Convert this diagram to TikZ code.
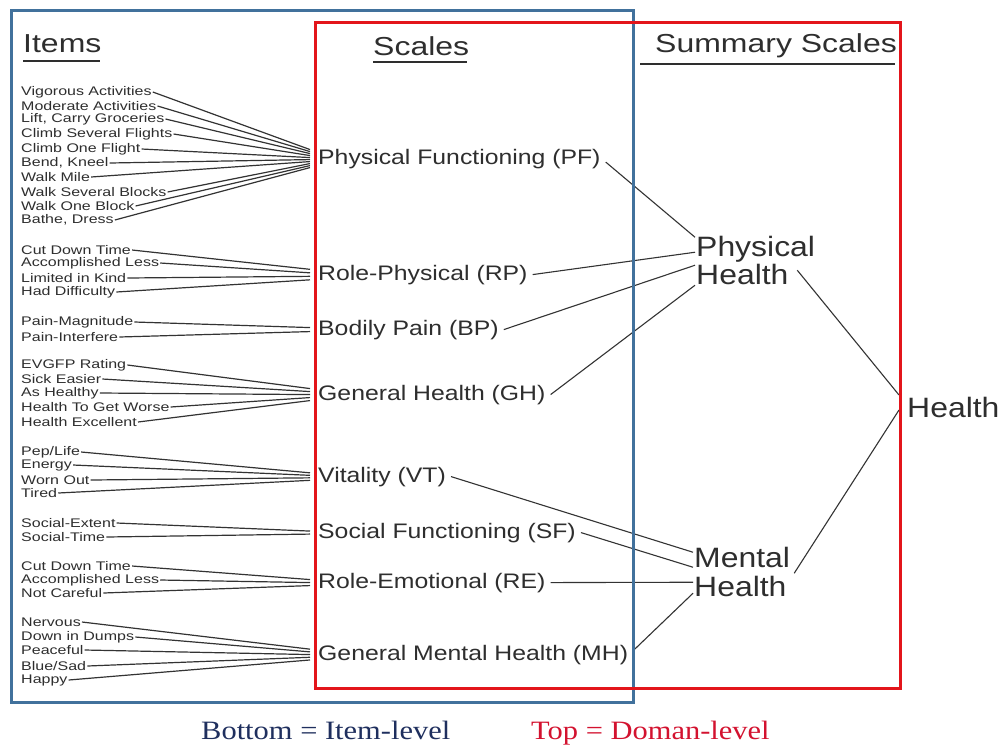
\documentclass[tikz,border=0pt]{standalone}
\usepackage{fontspec}
\setmainfont{Liberation Sans}
\newfontfamily\itmfont[FakeStretch=1.28]{Liberation Sans}
\newfontfamily\sclfont[FakeStretch=1.18]{Liberation Sans}
\newfontfamily\sumfont[FakeStretch=1.14]{Liberation Sans}
\newfontfamily\hdfont[FakeStretch=1.23]{Liberation Sans}
\newfontfamily\ntfont[FakeStretch=1.15]{Liberation Serif}
\definecolor{txt}{HTML}{2E2E2E}
\definecolor{lnk}{HTML}{333333}
\definecolor{boxblue}{HTML}{41719C}
\definecolor{boxred}{HTML}{E3151B}
\definecolor{navy}{HTML}{1F2F5E}
\definecolor{notered}{HTML}{D3122F}
\begin{document}
\begin{tikzpicture}[x=1pt,y=-1pt,
  itm/.style={anchor=west,inner xsep=1pt,inner ysep=0pt,text=txt,
    font=\itmfont\fontsize{12.5}{13}\selectfont},
  scl/.style={anchor=base west,inner xsep=5pt,inner ysep=0pt,text=txt,
    font=\sclfont\fontsize{21}{23}\selectfont},
  summ/.style={anchor=north west,inner sep=1pt,align=left,text=txt,
    font=\sumfont\fontsize{28}{28.5}\selectfont},
  hd/.style={anchor=base west,inner sep=0pt,text=txt,
    font=\hdfont\fontsize{26}{28}\selectfont},
  note/.style={anchor=base west,inner sep=0pt,
    font=\ntfont\fontsize{26.5}{28}\selectfont},
  link/.style={draw=lnk,line width=1.2pt},
  wide link/.style={draw=lnk,line width=1.1pt},
  uline/.style={draw=txt,line width=1.6pt},
  frame/.style={line width=3pt}]
\useasboundingbox[fill=white] (0,0) rectangle (1003,748);

% column headings
\node[hd] (items) at (23,52) {Items};
\draw[uline] (23,61) -- (100,61);
\node[hd] (scales) at (373,55) {Scales};
\draw[uline] (373,62) -- (467,62);
\node[hd] (summary) at (655,52) {Summary Scales};
\draw[uline] (640,64) -- (895,64);

% the eight scales
\node[scl] (PF) at (313,164) {Physical Functioning (PF)};
\node[scl] (RP) at (313,280) {Role-Physical (RP)};
\node[scl] (BP) at (313,335) {Bodily Pain (BP)};
\node[scl] (GH) at (313,400) {General Health (GH)};
\node[scl] (VT) at (313,482) {Vitality (VT)};
\node[scl] (SF) at (313,538) {Social Functioning (SF)};
\node[scl] (RE) at (313,588) {Role-Emotional (RE)};
\node[scl] (MH) at (313,660) {General Mental Health (MH)};

% summary scales and overall health
\node[summ] (physh) at (695,235) {Physical\\Health};
\node[summ] (menth) at (693,546) {Mental\\Health};
\node[anchor=base west,inner xsep=8pt,inner ysep=1pt,text=txt,
  font=\sumfont\fontsize{28}{28.5}\selectfont] (health) at (899,417) {Health};

% items feeding each scale
\foreach \t/\y [count=\i] in {Vigorous Activities/92, Moderate Activities/106,
  {Lift, Carry Groceries}/119, Climb Several Flights/134, Climb One Flight/149,
  {Bend, Kneel}/163, Walk Mile/177, Walk Several Blocks/192, Walk One Block/206,
  {Bathe, Dress}/220}
  {\node[itm] (pf\i) at (20,\y) {\t};
   \draw[link] (pf\i.east) -- ([xshift=-3pt,yshift={(5.5-\i)*2pt}]PF.west);}

\foreach \t/\y [count=\i] in {Cut Down Time/250, Accomplished Less/263,
  Limited in Kind/278, Had Difficulty/292}
  {\node[itm] (rp\i) at (20,\y) {\t};
   \draw[link] (rp\i.east) -- ([xshift=-3pt,yshift={(2.5-\i)*3.5pt}]RP.west);}

\foreach \t/\y [count=\i] in {Pain-Magnitude/322, Pain-Interfere/337}
  {\node[itm] (bp\i) at (20,\y) {\t};
   \draw[link] (bp\i.east) -- ([xshift=-3pt,yshift={(1.5-\i)*4pt}]BP.west);}

\foreach \t/\y [count=\i] in {EVGFP Rating/365, Sick Easier/379, As Healthy/393,
  Health To Get Worse/407, Health Excellent/422}
  {\node[itm] (gh\i) at (20,\y) {\t};
   \draw[link] (gh\i.east) -- ([xshift=-3pt,yshift={(3-\i)*3pt}]GH.west);}

\foreach \t/\y [count=\i] in {{Pep/Life}/452, Energy/465, Worn Out/480, Tired/493}
  {\node[itm] (vt\i) at (20,\y) {\t};
   \draw[link] (vt\i.east) -- ([xshift=-3pt,yshift={(2.5-\i)*2.5pt}]VT.west);}

\foreach \t/\y [count=\i] in {Social-Extent/523, Social-Time/537}
  {\node[itm] (sf\i) at (20,\y) {\t};
   \draw[link] (sf\i.east) -- ([xshift=-3pt,yshift={(1.5-\i)*3pt}]SF.west);}

\foreach \t/\y [count=\i] in {Cut Down Time/566, Accomplished Less/580, Not Careful/593}
  {\node[itm] (re\i) at (20,\y) {\t};
   \draw[link] (re\i.east) -- ([xshift=-3pt,yshift={(2-\i)*3pt}]RE.west);}

\foreach \t/\y [count=\i] in {Nervous/622, Down in Dumps/637, Peaceful/650,
  {Blue/Sad}/666, Happy/680}
  {\node[itm] (mh\i) at (20,\y) {\t};
   \draw[link] (mh\i.east) -- ([xshift=-3pt,yshift={(3-\i)*2.7pt}]MH.west);}

% scales to summary scales
\draw[wide link] ([yshift=-3.5pt]PF.east) -- ([yshift=23.5pt]physh.west);
\draw[wide link] (RP.east) -- ([yshift=8.5pt]physh.west);
\draw[wide link] (BP.east) -- ([yshift=-4.5pt]physh.west);
\draw[wide link] (GH.east) -- ([yshift=-24.5pt]physh.west);
\draw[wide link] (VT.east) -- ([yshift=19.5pt]menth.west);
\draw[wide link] (SF.east) -- ([yshift=4.5pt]menth.west);
\draw[wide link] (RE.east) -- ([yshift=-10.5pt]menth.west);
\draw[wide link] ([yshift=4pt]MH.east) -- ([yshift=-21.5pt]menth.west);

% summary scales to health
\draw[wide link] ([xshift=-19pt,yshift=-9.5pt]physh.east) -- ([yshift=12pt]health.west);
\draw[wide link] ([xshift=3pt,yshift=-1.5pt]menth.east) -- ([yshift=-3pt]health.west);

% item-level and domain-level frames
\draw[frame,draw=boxblue] (11,10) rectangle (633,702);
\draw[frame,draw=boxred] (315,22) rectangle (900,688);

% legend
\node[note,text=navy] (bottomnote) at (201,739) {Bottom = Item-level};
\node[note,text=notered] (topnote) at (531,739) {Top = Doman-level};
\end{tikzpicture}
\end{document}
